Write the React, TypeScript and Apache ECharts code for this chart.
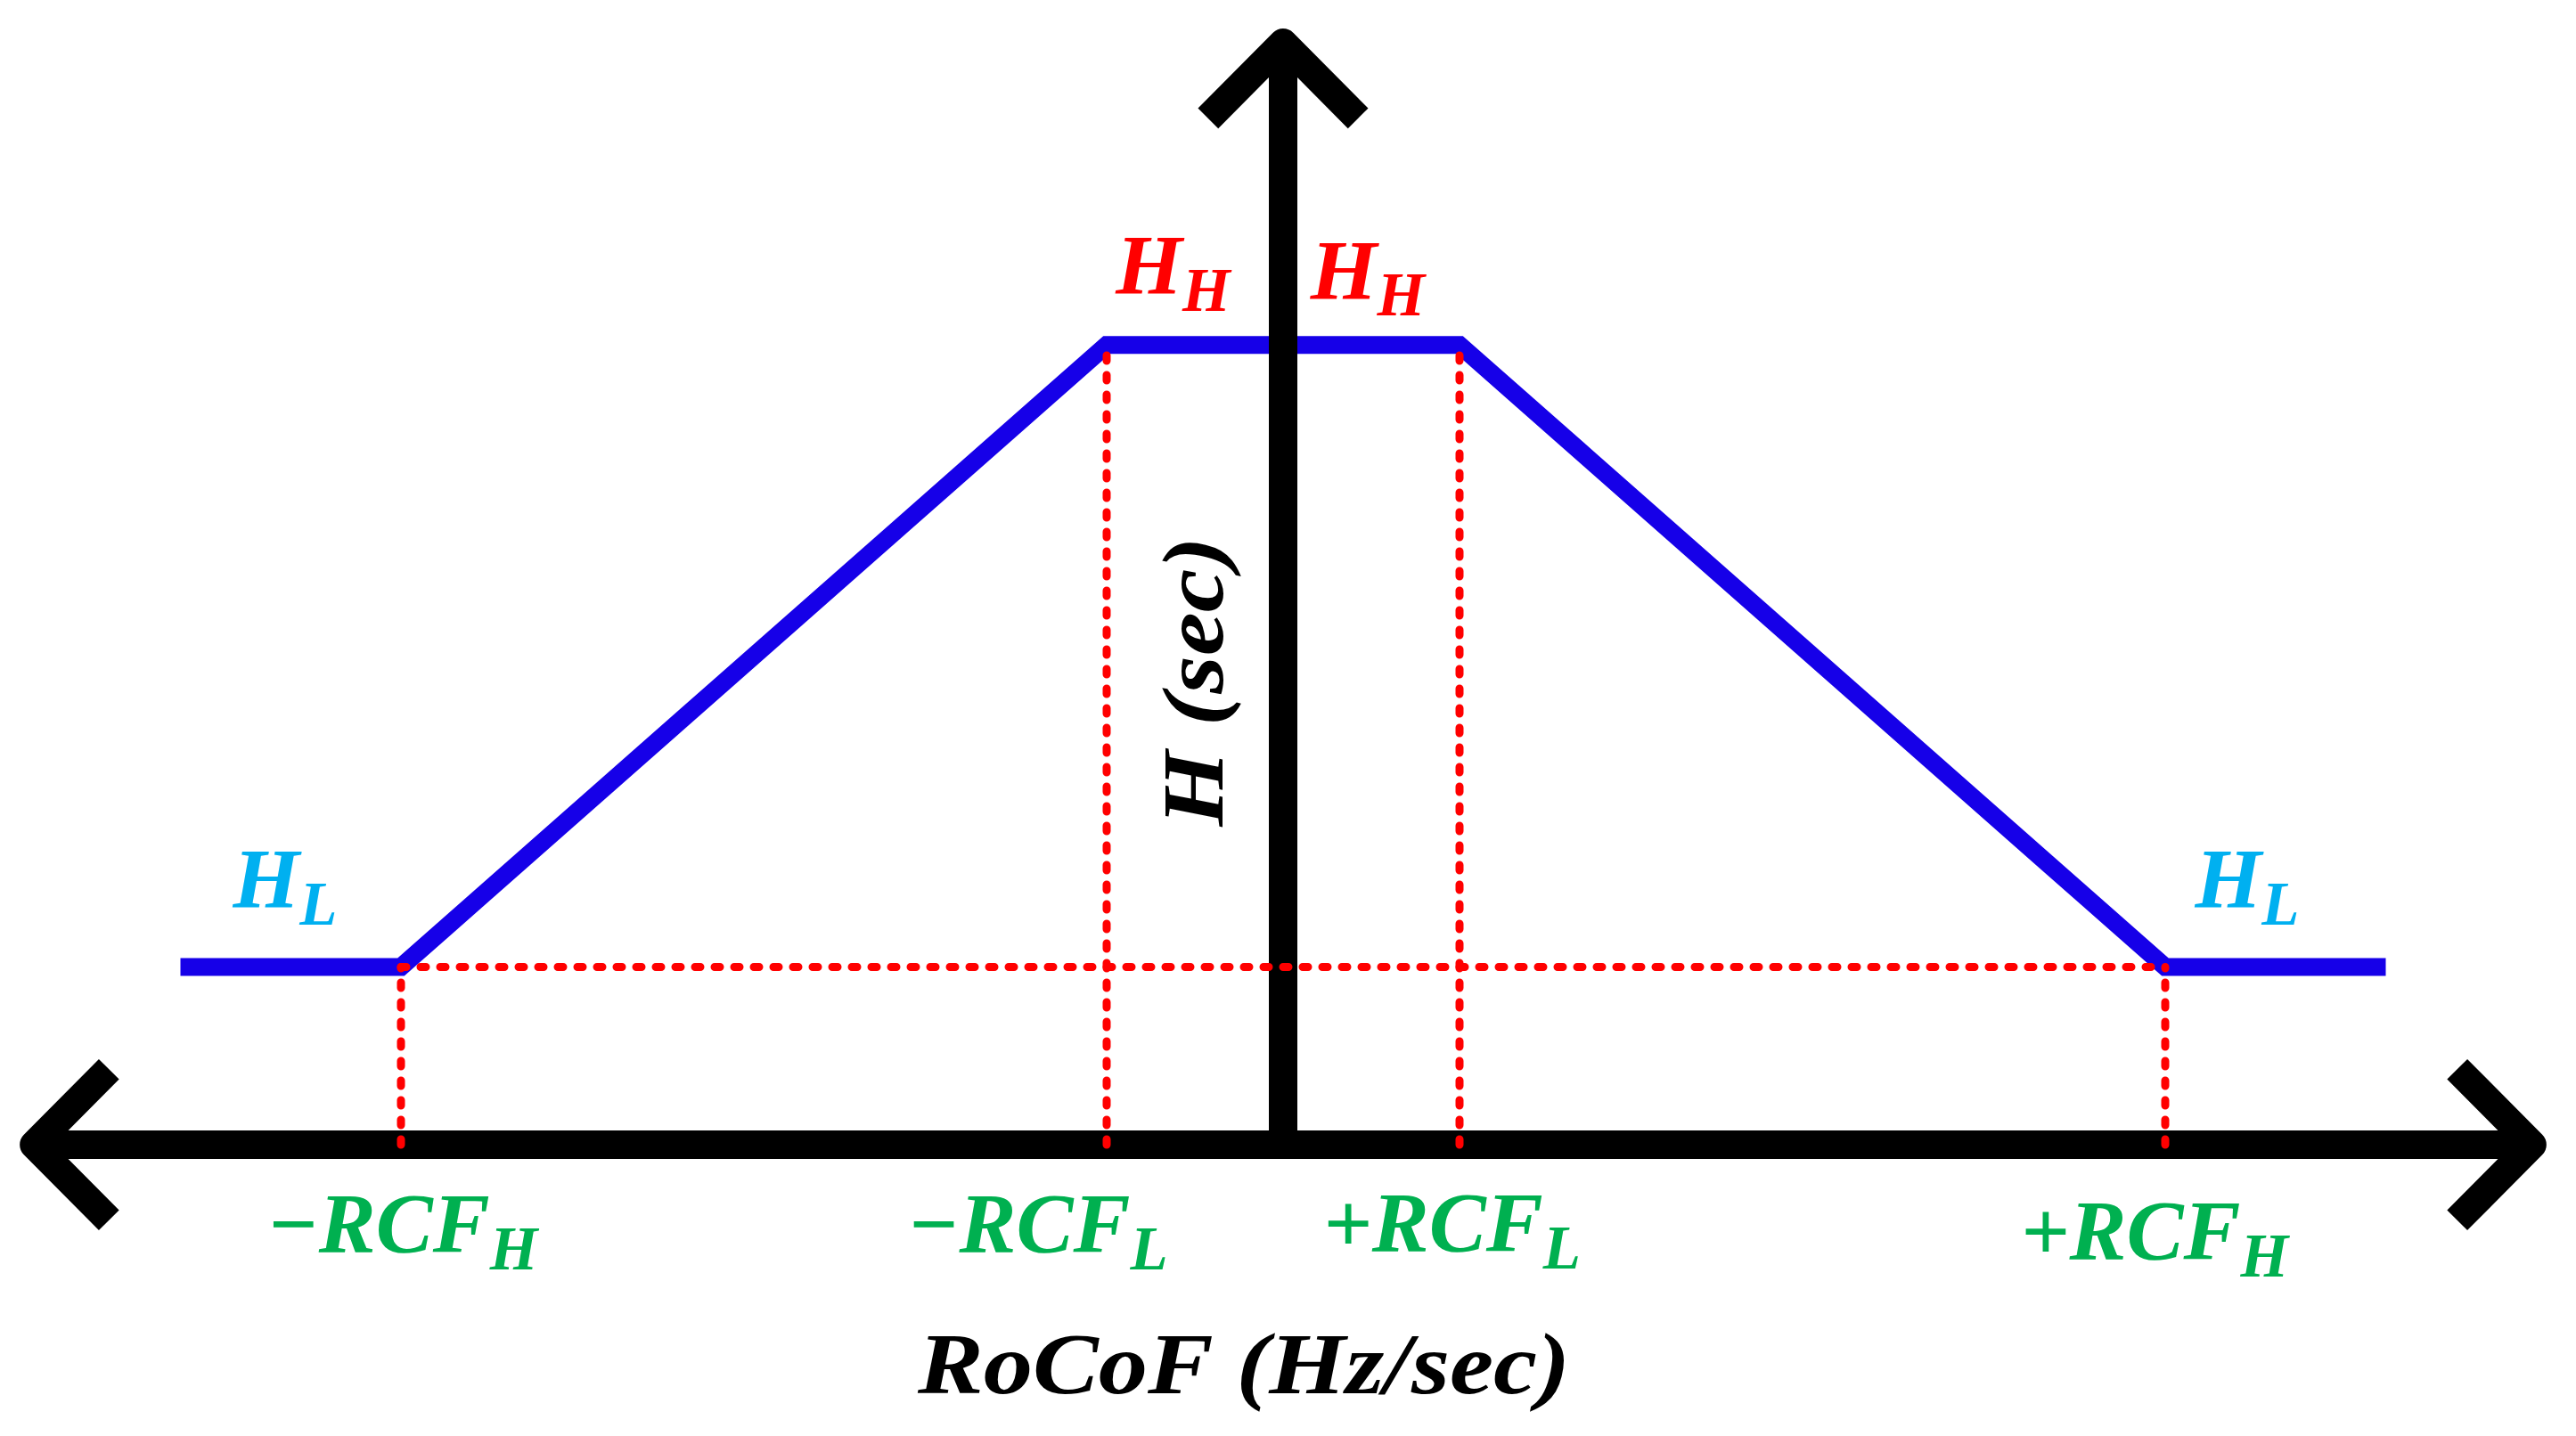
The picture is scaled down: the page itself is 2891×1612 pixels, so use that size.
import React, { useEffect, useRef } from "react";
import * as echarts from "echarts";

// ---- values (abstract units) ----
const RCF_L = 1; // +/- low RoCoF threshold
const RCF_H = 5; // +/- high RoCoF threshold
const H_L = 1; // low inertia level
const H_H = 4.5; // high inertia level
const CURVE_END = 6.25; // extent of the drawn characteristic

// inertia characteristic H(RoCoF)
const curveX = [-CURVE_END, -RCF_H, -RCF_L, RCF_L, RCF_H, CURVE_END];
const curveY = [H_L, H_L, H_H, H_H, H_L, H_L];

// tick positions on the RoCoF axis and their projection heights
const tickValues = [-RCF_H, -RCF_L, RCF_L, RCF_H];
const tickHeights = [H_L, H_H, H_H, H_L];
const tickMain = ["\u2212RCF", "\u2212RCF", "+RCF", "+RCF"];
const tickSub = ["H", "L", "L", "H"];

// level labels
const levelAnchorX = [-RCF_H, -RCF_L, RCF_L, RCF_H];
const levelAnchorY = [H_L, H_H, H_H, H_L];
const levelMain = ["H", "H", "H", "H"];
const levelSub = ["L", "H", "H", "L"];

// axis extents (data units)
const X_AXIS_END = 7.08;
const Y_AXIS_END = 6.2;
const ARROW = 0.425;

const xAxisName = "RoCoF (Hz/sec)";
const yAxisName = "H (sec)";

const BLUE = "#1600E8";
const RED = "#FF0000";
const GREEN = "#00B050";
const CYAN = "#00B0F0";
const FONT_FAMILY = '"Liberation Serif", "Times New Roman", serif';

export default function App() {
  const ref = useRef<HTMLDivElement>(null);

  useEffect(() => {
    const el = ref.current;
    if (!el) return;
    const chart = echarts.init(el, undefined, { renderer: "svg" });

    const series: any[] = [];
    const base = {
      type: "line",
      symbol: "none",
      showSymbol: false,
      silent: true,
      clip: false,
      animation: false,
    };

    // blue characteristic
    series.push({
      ...base,
      data: curveX.map((x, i) => [x, curveY[i]]),
      lineStyle: { color: BLUE, width: 20, join: "miter", cap: "butt" },
      z: 2,
    });

    // black axes
    const axisStyle = { color: "#000", width: 32, join: "round", cap: "butt" };
    series.push({ ...base, data: [[-X_AXIS_END, 0], [X_AXIS_END, 0]], lineStyle: axisStyle, z: 3 });
    series.push({ ...base, data: [[0, 0], [0, Y_AXIS_END]], lineStyle: axisStyle, z: 3 });
    series.push({
      ...base,
      data: [[-X_AXIS_END + ARROW, ARROW], [-X_AXIS_END, 0], [-X_AXIS_END + ARROW, -ARROW]],
      lineStyle: axisStyle,
      z: 3,
    });
    series.push({
      ...base,
      data: [[X_AXIS_END - ARROW, ARROW], [X_AXIS_END, 0], [X_AXIS_END - ARROW, -ARROW]],
      lineStyle: axisStyle,
      z: 3,
    });
    series.push({
      ...base,
      data: [[-ARROW, Y_AXIS_END - ARROW], [0, Y_AXIS_END], [ARROW, Y_AXIS_END - ARROW]],
      lineStyle: axisStyle,
      z: 3,
    });

    // red dotted projections
    const dotStyle = { color: RED, width: 9, type: [6, 16], cap: "round" };
    tickValues.forEach((x, i) => {
      series.push({ ...base, data: [[x, 0], [x, tickHeights[i]]], lineStyle: dotStyle, z: 4 });
    });
    series.push({ ...base, data: [[-RCF_H, H_L], [RCF_H, H_L]], lineStyle: dotStyle, z: 4 });

    chart.setOption({
      animation: false,
      backgroundColor: "#ffffff",
      grid: { left: 4.5, right: 15.5, top: 8.2, bottom: 27.75, containLabel: false },
      xAxis: { type: "value", min: -7.25, max: 7.25, show: false },
      yAxis: { type: "value", min: -1.5, max: 6.4, show: false },
      series,
    });

    const px = (x: number, y: number) =>
      chart.convertToPixel({ gridIndex: 0 }, [x, y]) as unknown as number[];

    const mainFont = `italic bold 96px ${FONT_FAMILY}`;
    const subFont = `italic bold 69px ${FONT_FAMILY}`;
    const richLabel = (main: string, sub: string, color: string, x: number, y: number) => ({
      type: "text",
      x,
      y,
      z: 100,
      silent: true,
      style: {
        text: `{m|${main}}{s|${sub}}`,
        align: "center",
        verticalAlign: "middle",
        fill: color,
        font: mainFont,
        rich: {
          m: { font: mainFont, fill: color },
          s: { font: subFont, fill: color, padding: [56, 0, 0, 0] },
        },
      },
    });

    const graphics: any[] = [];
    const tickOffsets = [
      [1.5, 88.5],
      [-77.5, 88.5],
      [-8.5, 87.5],
      [-12, 96.5],
    ];
    tickValues.forEach((v, i) => {
      const p = px(v, 0);
      graphics.push(richLabel(tickMain[i], tickSub[i], GREEN, p[0] + tickOffsets[i][0], p[1] + tickOffsets[i][1]));
    });

    const levelOffsets = [
      [-130, -99],
      [74.5, -89.75],
      [-103, -84],
      [92, -99],
    ];
    const levelColors = [CYAN, RED, RED, CYAN];
    levelAnchorX.forEach((v, i) => {
      const p = px(v, levelAnchorY[i]);
      graphics.push(
        richLabel(levelMain[i], levelSub[i], levelColors[i], p[0] + levelOffsets[i][0], p[1] + levelOffsets[i][1])
      );
    });

    const o = px(0, 0);
    const nameFont = `italic bold 97px ${FONT_FAMILY}`;
    graphics.push({
      type: "text",
      x: o[0] - 44,
      y: o[1] + 245.5,
      scaleX: 1.14,
      z: 100,
      silent: true,
      style: { text: xAxisName, font: nameFont, fill: "#000", align: "center", verticalAlign: "middle" },
    });
    graphics.push({
      type: "text",
      x: o[0] - 101,
      y: o[1] - 520,
      rotation: Math.PI / 2,
      scaleX: 1.13,
      z: 100,
      silent: true,
      style: { text: yAxisName, font: nameFont, fill: "#000", align: "center", verticalAlign: "middle" },
    });

    chart.setOption({ graphic: graphics });

    return () => {
      chart.dispose();
    };
  }, []);

  return (
    <div
      ref={ref}
      style={{ position: "fixed", left: 0, top: 0, width: 2891, height: 1612, background: "#ffffff" }}
    />
  );
}
